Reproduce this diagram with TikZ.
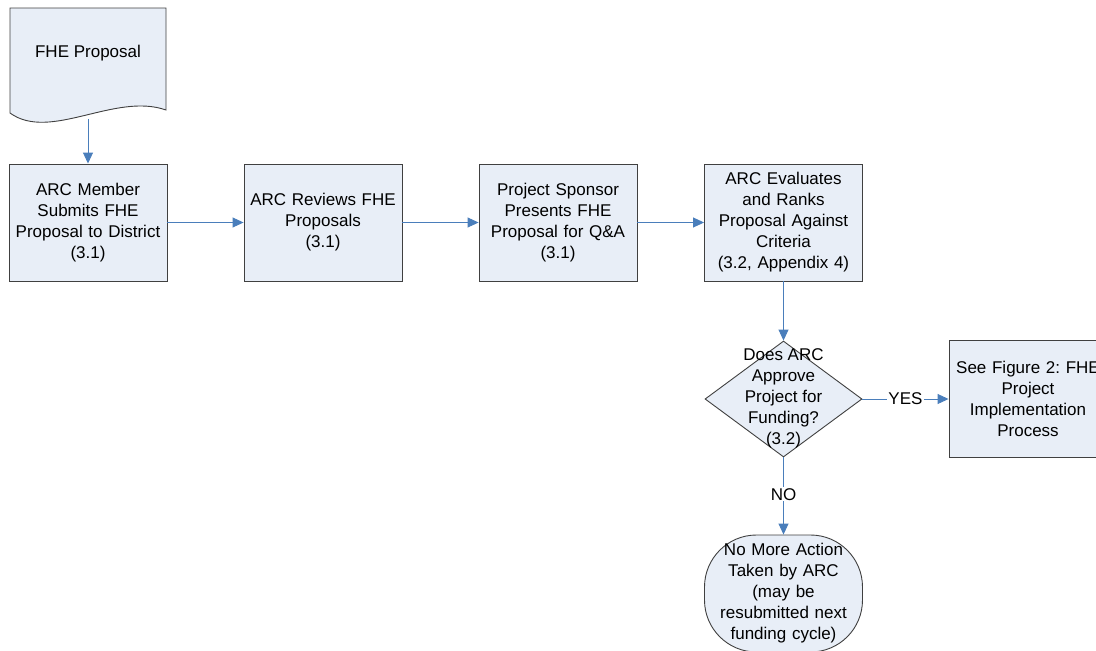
\documentclass[tikz,border=0pt]{standalone}
\usepackage{fontspec}
\setmainfont{Liberation Sans}
\usetikzlibrary{arrows.meta,shapes.geometric}
\definecolor{boxfill}{RGB}{232,238,247}
\definecolor{boxline}{RGB}{64,64,64}
\definecolor{arrowblue}{RGB}{74,126,187}
\tikzset{
  every node/.style={font=\fontsize{17}{21}\selectfont\frenchspacing, align=center},
  procbox/.style={draw=boxline, fill=boxfill, line width=0.9pt, minimum width=156pt, minimum height=117pt, inner sep=2pt, text width=154pt},
  decbox/.style={draw=boxline, fill=boxfill, line width=0.9pt, diamond, minimum width=157pt, minimum height=116pt, inner sep=0pt, aspect=1.35},
  termbox/.style={draw=boxline, fill=boxfill, line width=0.9pt, rounded corners=52pt, minimum width=157pt, minimum height=117pt, inner sep=2pt, text width=154pt},
  conn/.style={draw=arrowblue, line width=0.9pt, -{Triangle[width=10pt,length=11pt]}},
  lbl/.style={fill=white, inner sep=1pt}
}
\begin{document}
\begin{tikzpicture}[x=1pt,y=-1pt]
\useasboundingbox (0,0) rectangle (1096,651);
\begin{scope}
\clip (0,0) rectangle (1096,651);
% document shape
\draw[draw=boxline, fill=boxfill, line width=0.9pt] (10,8) -- (166,8) -- (166,110) .. controls (115,92) and (50,142) .. (10,113) -- cycle;
\node (doc) at (88,53) {FHE Proposal};
\coordinate (docb) at (88,119);
\node[procbox] (b1) at (88,222.5) {ARC Member\\Submits FHE\\Proposal to District\\(3.1)};
\node[procbox] (b2) at (323,222.5) {ARC Reviews FHE\\Proposals\\(3.1)};
\node[procbox] (b3) at (558,222.5) {Project Sponsor\\Presents FHE\\Proposal for Q\&A\\(3.1)};
\node[procbox] (b4) at (783.5,222.5) {ARC Evaluates\\and Ranks\\Proposal Against\\Criteria\\(3.2, Appendix 4)};
\node[decbox] (d) at (783.5,399) {};
\node at (783.5,398) {Does ARC\\Approve\\Project for\\Funding?\\(3.2)};
\node[procbox] (b5) at (1028,399) {See Figure 2: FHE\\Project\\Implementation\\Process};
\node[termbox] (t) at (783.5,593.5) {No More Action\\Taken by ARC\\(may be\\resubmitted next\\funding cycle)};
\end{scope}
\draw[conn] (docb) -- (b1.north);
\draw[conn] (b1.east) -- (b2.west);
\draw[conn] (b2.east) -- (b3.west);
\draw[conn] (b3.east) -- (b4.west);
\draw[conn] (b4.south) -- (d.north);
\draw[conn] (d.east) -- node[lbl] {YES} (b5.west);
\draw[conn] (d.south) -- node[lbl, pos=0.48] {NO} (t.north);
\end{tikzpicture}
\end{document}
